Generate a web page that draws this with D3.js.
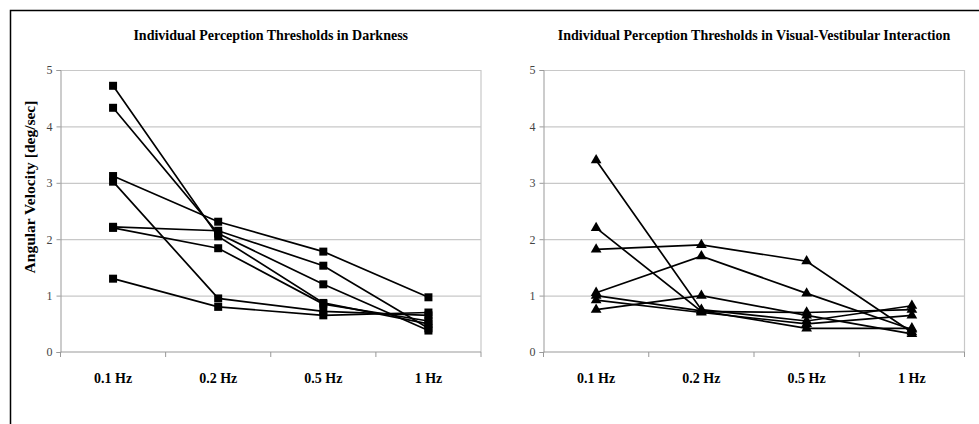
<!DOCTYPE html>
<html>
<head>
<meta charset="utf-8">
<script src="https://cdn.jsdelivr.net/npm/d3@7"></script>
<style>
    body { margin: 0; background: #fff; }
    svg { display: block; }
    .title, .yLabel, .catLabel { font-family: "Liberation Serif", "Times New Roman", serif; font-weight: bold; fill: #000; }
    .title { font-size: 14px; }
    .yLabel { font-size: 15.5px; }
    .catLabel { font-size: 14px; }
    .yTick text { font-family: "Liberation Serif", "Times New Roman", serif; font-size: 12px; fill: #444; }
</style>
</head>
<body>
<div id="chart"></div>
<script>
"use strict";

var WIDTH = 979;
var HEIGHT = 424;
var TOP = 70;
var BOTTOM = 352;

var categories = ["0.1 Hz", "0.2 Hz", "0.5 Hz", "1 Hz"];
var yTicks = [0, 1, 2, 3, 4, 5];

// Darkness, one array per subject (0.1, 0.2, 0.5, 1 Hz)
var darkA = [4.72, 2.05, 0.87, 0.50];
var darkB = [4.33, 2.10, 1.20, 0.38];
var darkC = [3.12, 2.31, 1.78, 0.97];
var darkD = [3.02, 0.95, 0.72, 0.65];
var darkE = [2.22, 2.15, 1.53, 0.42];
var darkF = [2.20, 1.84, 0.85, 0.55];
var darkG = [1.30, 0.80, 0.65, 0.70];

// Visual-vestibular interaction
var visA = [3.40, 0.75, 0.55, 0.82];
var visB = [2.20, 0.72, 0.70, 0.75];
var visC = [1.82, 1.90, 1.61, 0.35];
var visD = [1.05, 1.70, 1.04, 0.40];
var visE = [1.00, 0.73, 0.42, 0.42];
var visF = [0.92, 0.70, 0.50, 0.65];
var visG = [0.75, 1.00, 0.65, 0.32];

var svg = d3.select("#chart").append("svg")
    .attr("width", WIDTH)
    .attr("height", HEIGHT);

svg.append("rect").attr("width", WIDTH).attr("height", HEIGHT).attr("fill", "#fff");

// Outer frame (cut off at right and bottom like the original)
svg.append("path")
    .attr("d", "M10.5," + (HEIGHT + 5) + "V10.5H" + (WIDTH + 5))
    .attr("fill", "none")
    .attr("stroke", "#000")
    .attr("stroke-width", 1.5);

drawPanel({
    left: 60.5, right: 481,
    title: "Individual Perception Thresholds in Darkness",
    series: [darkA, darkB, darkC, darkD, darkE, darkF, darkG],
    symbol: d3.symbolSquare, size: 64,
    yLabel: "Angular Velocity [deg/sec]"
});

drawPanel({
    left: 543.5, right: 964.5,
    title: "Individual Perception Thresholds in Visual-Vestibular Interaction",
    series: [visA, visB, visC, visD, visE, visF, visG],
    symbol: d3.symbolTriangle, size: 50
});

function drawPanel(p) {
    var x = d3.scaleBand().domain(categories).range([p.left, p.right]);
    var y = d3.scaleLinear().domain([0, 5]).range([BOTTOM, TOP]);
    var g = svg.append("g");

    function cx(i) { return x(categories[i]) + x.bandwidth() / 2; }

    // Gridlines
    g.append("g")
        .attr("transform", "translate(" + p.left + ",0)")
        .call(d3.axisLeft(y).tickValues(yTicks.slice(1)).tickSize(-(p.right - p.left)).tickFormat(""))
        .call(function (a) {
            a.select(".domain").remove();
            a.selectAll("line").attr("stroke", "#c8c8c8").attr("stroke-width", 1.2);
        });

    // Right border of the plot area
    g.append("line")
        .attr("x1", p.right).attr("x2", p.right)
        .attr("y1", y(5)).attr("y2", y(0))
        .attr("stroke", "#c8c8c8").attr("stroke-width", 1.2);

    // Y axis
    g.append("g")
        .attr("class", "yTick")
        .attr("transform", "translate(" + p.left + ",0)")
        .call(d3.axisLeft(y).tickValues(yTicks).tickSize(4).tickPadding(4).tickFormat(d3.format("d")))
        .call(function (a) {
            a.select(".domain").attr("stroke", "#999");
            a.selectAll("line").attr("stroke", "#999");
        });

    // X axis line and boundary ticks
    g.append("line")
        .attr("x1", p.left).attr("x2", p.right)
        .attr("y1", y(0)).attr("y2", y(0))
        .attr("stroke", "#999");
    var bounds = categories.map(function (c) { return x(c); }).concat([p.right]);
    g.selectAll("line.xTick").data(bounds).enter().append("line")
        .attr("class", "xTick")
        .attr("x1", function (d) { return d; }).attr("x2", function (d) { return d; })
        .attr("y1", y(0)).attr("y2", y(0) + 5)
        .attr("stroke", "#999");

    // Category labels
    g.selectAll("text.catLabel").data(categories).enter().append("text")
        .attr("class", "catLabel")
        .attr("x", function (d, i) { return cx(i); })
        .attr("y", 383)
        .attr("text-anchor", "middle")
        .text(function (d) { return d; });

    // Title
    g.append("text")
        .attr("class", "title")
        .attr("x", (p.left + p.right) / 2)
        .attr("y", 40)
        .attr("text-anchor", "middle")
        .text(p.title);

    if (p.yLabel) {
        g.append("text")
            .attr("class", "yLabel")
            .attr("transform", "translate(35,187) rotate(-90)")
            .attr("text-anchor", "middle")
            .text(p.yLabel);
    }

    // Lines
    var line = d3.line()
        .x(function (d, i) { return cx(i); })
        .y(function (d) { return y(d); });

    g.selectAll("path.subject").data(p.series).enter().append("path")
        .attr("class", "subject")
        .attr("d", line)
        .attr("fill", "none")
        .attr("stroke", "#000")
        .attr("stroke-width", 1.7);

    // Markers
    var sym = d3.symbol().type(p.symbol).size(p.size);
    p.series.forEach(function (s) {
        g.selectAll(null).data(s).enter().append("path")
            .attr("d", sym)
            .attr("transform", function (d, i) { return "translate(" + cx(i) + "," + y(d) + ")"; })
            .attr("fill", "#000");
    });
}
</script>
</body>
</html>
